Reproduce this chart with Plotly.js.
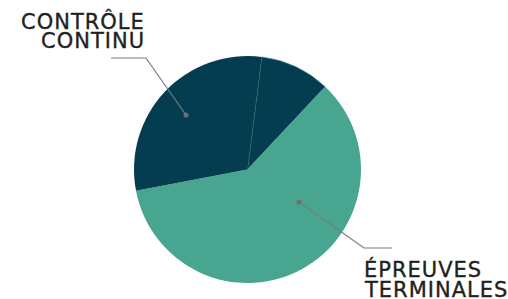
<!DOCTYPE html>
<html>
<head>
<meta charset="utf-8">
<script src="https://cdn.plot.ly/plotly-3.0.1.min.js"></script>
<style>
html,body{margin:0;padding:0;background:#fff;}
#chart{width:508px;height:299px;}
#chart .annotation-text{letter-spacing:1px;stroke:#231f20;stroke-width:0.35px;}
</style>
</head>
<body>
<div id="chart"></div>
<script>
// Data
const sliceLabels = ["Contrôle continu (part 1)", "Épreuves terminales", "Contrôle continu (part 2)"];
const sliceValues = [10, 60, 30];
const sliceColors = ["#043d4f", "#48a690", "#043d4f"];
const labelLines1 = ["CONTRÔLE", "CONTINU"];
const labelLines2 = ["ÉPREUVES", "TERMINALES"];

const W = 508, H = 299;
const px = x => x / W;
const py = y => 1 - y / H;

const trace = {
  type: "pie",
  labels: sliceLabels,
  values: sliceValues,
  sort: false,
  direction: "clockwise",
  rotation: 7.2,
  textinfo: "none",
  hoverinfo: "none",
  showlegend: false,
  marker: {
    colors: sliceColors,
    line: { color: ["#4f8896", "#48a690", "#043d4f"], width: [0.7, 0, 0] }
  },
  domain: { x: [px(134), px(361)], y: [py(283), py(56)] }
};

const textFont = { family: "DejaVu Sans", size: 21, color: "#231f20" };
const ann = (text, x, y, anchor) => ({
  text, x: px(x), y: py(y), xref: "paper", yref: "paper",
  xanchor: anchor, align: anchor, yanchor: "middle", showarrow: false, borderpad: 0,
  font: textFont
});

const lineStyle = { color: "#7b7b7b", width: 1.2 };
const layout = {
  width: W, height: H,
  margin: { l: 0, r: 0, t: 0, b: 0 },
  paper_bgcolor: "#ffffff",
  plot_bgcolor: "#ffffff",
  annotations: [
    ann(labelLines1[0], 145.5, 21.5, "right"),
    ann(labelLines1[1], 145.5, 40.5, "right"),
    ann(labelLines2[0], 363, 269.8, "left"),
    ann(labelLines2[1], 363, 290, "left")
  ],
  shapes: [
    { type: "path", xref: "paper", yref: "paper",
      path: `M${px(111)},${py(58)} L${px(146)},${py(58)} L${px(186)},${py(115)}`,
      line: lineStyle },
    { type: "path", xref: "paper", yref: "paper",
      path: `M${px(299)},${py(202)} L${px(364)},${py(248)} L${px(392)},${py(248)}`,
      line: lineStyle },
    { type: "circle", xref: "paper", yref: "paper",
      x0: px(183.5), x1: px(188.5), y0: py(117.5), y1: py(112.5),
      fillcolor: "#6d6e71", line: { width: 0 } },
    { type: "circle", xref: "paper", yref: "paper",
      x0: px(296.5), x1: px(301.5), y0: py(204.5), y1: py(199.5),
      fillcolor: "#6d6e71", line: { width: 0 } }
  ]
};

Plotly.newPlot("chart", [trace], layout, { staticPlot: true, displayModeBar: false });
</script>
</body>
</html>
